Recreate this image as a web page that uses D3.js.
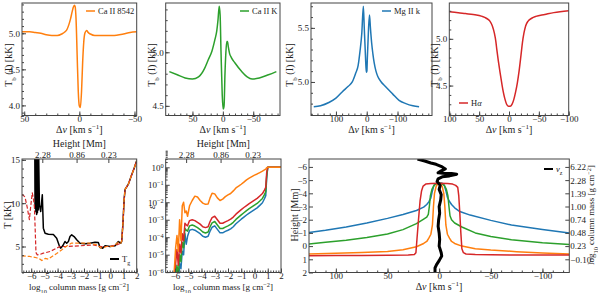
<!DOCTYPE html>
<html>
<head>
<meta charset="utf-8">
<script src="https://cdn.jsdelivr.net/npm/d3@7"></script>
<style>
body { margin: 0; background: #fff; }
svg { font-family: "Liberation Serif", serif; }
</style>
</head>
<body>
<svg id="fig" width="598" height="293"></svg>
<script>
//Line profiles (top row)
var caDv = [52, 45, 40, 35, 30, 25, 20, 16, 13, 11, 9.5, 8, 6.5, 5.5, 4.5, 3.8, 3, 2, 1, 0, -0.9, -2, -3, -4, -5, -6, -6.8, -8, -10, -14, -20, -30, -40, -46, -52];
var caT = [5.02, 5.02, 5.01, 5.0, 4.98, 4.97, 4.97, 4.99, 5.02, 5.06, 5.12, 5.2, 5.3, 5.36, 5.39, 5.37, 5.2, 4.7, 4.2, 3.99, 3.97, 4.2, 4.6, 4.88, 5.0, 5.03, 5.04, 5.01, 4.99, 4.97, 4.97, 4.97, 4.99, 5.01, 5.02];

var ckDv = [88, 75, 62, 50, 40, 30, 24, 18, 13, 10, 8, 6, 4.5, 3, 1, -0.5, -2, -3.5, -5, -6.5, -7.6, -9, -11, -14, -20, -31, -40, -48, -60, -75, -88];
var ckT = [4.82, 4.79, 4.76, 4.75, 4.77, 4.85, 4.93, 5.01, 5.12, 5.2, 5.3, 5.43, 5.35, 5.0, 4.6, 4.47, 4.5, 4.8, 5.0, 5.1, 5.1, 5.05, 4.99, 4.95, 4.9, 4.82, 4.77, 4.75, 4.76, 4.79, 4.82];

var mgDv = [172, 150, 123, 100, 79, 60, 47, 36, 28, 22, 16, 11, 8, 5, 2.5, 1, -0.5, -2, -4, -6, -9, -12, -16, -20, -24, -30, -36, -47, -60, -84, -105, -127, -150, -170];
var mgT = [4.77, 4.78, 4.81, 4.85, 4.91, 4.96, 5.0, 5.08, 5.15, 5.28, 5.45, 5.7, 5.5, 5.3, 5.14, 5.09, 5.1, 5.22, 5.36, 5.5, 5.62, 5.5, 5.36, 5.26, 5.18, 5.1, 5.05, 5.0, 4.96, 4.89, 4.83, 4.8, 4.78, 4.77];

var haDv = [100, 85, 73, 60, 45, 38, 32, 28, 24.5, 22, 20.5, 18, 15, 12, 9.5, 7, 4, 1, -2, -5, -8, -11, -14, -17, -20, -22.5, -25, -28, -32, -38, -45, -60, -75, -100];
var haT = [5.29, 5.28, 5.27, 5.26, 5.24, 5.22, 5.19, 5.14, 5.06, 4.97, 4.89, 4.77, 4.64, 4.52, 4.43, 4.36, 4.3, 4.28, 4.28, 4.3, 4.35, 4.43, 4.53, 4.66, 4.82, 4.96, 5.06, 5.14, 5.19, 5.22, 5.24, 5.26, 5.28, 5.3];

//Temperature (bottom left)
var tgMass = [-5.74, -5.71, -5.68, -5.65, -5.62, -5.59, -5.56, -5.53, -5.5, -5.47, -5.44, -5.38, -5.28, -5.16, -5.08, -4.95, -4.7, -4.32, -4.07, -3.87, -3.77, -3.61, -3.44, -3.31, -3.18, -3.06, -2.93, -2.75, -2.55, -2.3, -1.92, -1.54, -1.16, -0.91, -0.78, -0.58, -0.4, -0.02, 0.36, 0.61, 0.79, 0.86, 0.95, 1.05, 1.12, 1.37, 1.6, 1.8, 2.0];
var tgT = [20, 9.4, 20, 9.0, 20, 8.7, 20, 8.9, 20, 9.2, 16, 9.8, 9.04, 10.96, 7.12, 6.54, 6.42, 6.38, 5.96, 5.08, 4.81, 5.08, 5.58, 5.38, 5.58, 6.15, 6.35, 6.15, 5.77, 5.38, 5.31, 5.38, 5.5, 5.46, 4.88, 4.81, 5.08, 5.0, 5.08, 5.58, 5.38, 5.6, 7.5, 10.5, 11.6, 12.2, 13.2, 14.0, 14.9];

var trMass = [-6.72, -6.6, -6.47, -6.3, -6.14, -6.05, -5.92, -5.84, -5.76, -5.7, -5.64, -5.54, -5.3, -5.08, -4.57, -4.07, -3.82, -3.31, -2.3, -1.29, -0.78, -0.02, 0.48, 0.79, 0.86, 0.95, 1.05, 1.12, 1.37, 1.6, 1.8, 2.0];
var trT = [11.0, 10.9, 10.7, 9.5, 8.1, 9.5, 11.2, 10.6, 9.6, 7.0, 4.3, 4.04, 4.1, 4.23, 4.42, 4.81, 5.0, 5.0, 5.08, 5.19, 5.0, 5.0, 5.19, 5.38, 5.6, 7.5, 10.5, 11.6, 12.2, 13.2, 14.0, 14.9];

var toMass = [-6.72, -6.1, -5.6, -5.35, -5.2, -4.95, -4.7, -4.45, -4.07, -3.7, -3.31, -2.93, -2.3, -1.54, -1.04, -0.65, -0.27, 0.23, 0.61, 0.79, 0.86, 0.95, 1.05, 1.12, 1.37, 1.6, 1.8, 2.0];
var toT = [3.92, 3.85, 3.7, 3.55, 3.38, 3.62, 3.55, 3.82, 4.2, 4.6, 5.05, 5.4, 5.38, 5.38, 5.19, 4.81, 5.0, 5.05, 5.5, 5.38, 5.6, 7.5, 10.5, 11.6, 12.2, 13.2, 14.0, 14.9];

//Epsilon, log10 values (bottom middle)
var epsMass = [-6.1, -5.95, -5.85, -5.75, -5.65, -5.55, -5.45, -5.35, -5.25, -5.15, -5.05, -4.9, -4.7, -4.5, -4.3, -4.1, -3.9, -3.7, -3.5, -3.35, -3.2, -3.0, -2.8, -2.6, -2.4, -2.2, -2.0, -1.8, -1.6, -1.4, -1.2, -1.0, -0.8, -0.6, -0.4, -0.2, 0.0, 0.2, 0.4, 0.6, 0.75, 0.85, 0.92, 1.0, 1.5, 2.0];
var epsCa8542 = [-6.5, -4.6, -3.9, -4.8, -3.0, -4.2, -2.2, -2.0, -2.6, -2.5, -2.8, -2.2, -1.9, -1.65, -1.7, -1.9, -2.05, -2.12, -2.1, -1.75, -1.48, -1.52, -1.75, -1.9, -1.82, -1.68, -1.58, -1.5, -1.35, -1.18, -1.08, -0.97, -0.85, -0.72, -0.62, -0.53, -0.45, -0.38, -0.3, -0.22, -0.15, -0.1, -0.02, 0, 0, 0];
var epsHa = [-6.8, -5.5, -4.7, -5.6, -4.4, -4.9, -3.8, -4.2, -3.2, -3.3, -3.35, -3.05, -3.0, -3.05, -3.15, -3.25, -3.4, -3.45, -3.4, -3.1, -2.88, -2.8, -3.0, -3.2, -3.2, -3.12, -3.05, -2.97, -2.85, -2.68, -2.55, -2.42, -2.3, -2.19, -2.08, -1.98, -1.88, -1.78, -1.64, -1.5, -1.3, -1.15, -0.3, 0, 0, 0];
var epsCaK = [-7.5, -6.5, -5.6, -6.3, -5.0, -5.4, -4.3, -4.6, -3.5, -3.6, -3.65, -3.35, -3.3, -3.36, -3.45, -3.56, -3.7, -3.76, -3.7, -3.4, -3.18, -3.1, -3.3, -3.5, -3.5, -3.42, -3.35, -3.27, -3.15, -2.98, -2.85, -2.72, -2.6, -2.48, -2.37, -2.27, -2.17, -2.07, -1.93, -1.78, -1.56, -1.4, -0.5, 0, 0, 0];
var epsMg = [-8, -7, -6.2, -6.8, -5.5, -5.8, -4.8, -5.0, -3.8, -4.4, -3.95, -3.6, -3.55, -3.6, -3.7, -3.8, -3.95, -4.0, -3.95, -3.65, -3.43, -3.35, -3.55, -3.75, -3.75, -3.67, -3.6, -3.52, -3.4, -3.23, -3.1, -2.97, -2.85, -2.73, -2.62, -2.52, -2.42, -2.32, -2.18, -2.03, -1.8, -1.62, -0.6, 0, 0, 0];

//Formation height vs velocity (bottom right)
var hMgDv = [126, 110, 90, 70, 50, 35, 22, 15, 12, 10, 8, 6.5, 5, 3, 0, -3, -5, -6.5, -8, -10, -12, -15, -20, -30, -50, -70, -100, -126];
var hMg = [-1.03, -1.2, -1.45, -1.75, -2.1, -2.4, -2.7, -2.95, -3.15, -3.35, -3.65, -4.2, -4.6, -4.76, -4.8, -4.76, -4.6, -4.2, -3.7, -3.38, -3.15, -2.9, -2.62, -2.35, -1.95, -1.6, -1.26, -1.0];
var hCkDv = [126, 110, 90, 70, 50, 35, 22, 15, 12, 10.5, 9.5, 8.5, 7, 5, 2, 0, -2, -5, -7, -8.5, -9.5, -10.5, -12, -15, -22, -35, -50, -70, -100, -126];
var hCk = [-0.15, -0.3, -0.45, -0.65, -0.92, -1.25, -1.7, -2.05, -2.2, -2.4, -3.0, -3.8, -4.3, -4.6, -4.75, -4.8, -4.75, -4.6, -4.3, -3.8, -3.0, -2.3, -2.0, -1.75, -1.45, -1.0, -0.72, -0.48, -0.25, -0.13];
var hCaDv = [126, 100, 75, 50, 35, 22, 15, 12, 10, 8, 6.5, 5.5, 4.5, 3, 1.5, 0, -1.5, -3, -4.5, -5.5, -6.5, -8, -10, -12, -15, -22, -35, -50, -75, -100, -126];
var hCa = [0.6, 0.55, 0.48, 0.4, 0.28, 0.05, -0.2, -0.35, -0.6, -0.9, -1.6, -3.0, -4.0, -4.5, -4.7, -4.78, -4.7, -4.5, -4.0, -3.0, -1.6, -0.9, -0.6, -0.35, -0.2, 0.0, 0.2, 0.3, 0.42, 0.52, 0.6];
var hHaDv = [126, 100, 75, 50, 30, 24, 22.5, 21.5, 20, 18.5, 17, 15.5, 13, 8, 0, -8, -13, -16, -18, -19, -20, -21, -22, -23.5, -26, -35, -50, -75, -100, -126];
var hHa = [0.73, 0.72, 0.71, 0.69, 0.67, 0.64, 0.5, -0.5, -2.0, -3.4, -4.2, -4.55, -4.7, -4.75, -4.77, -4.75, -4.7, -4.6, -4.45, -3.8, -2.5, -1.0, 0.2, 0.5, 0.6, 0.64, 0.66, 0.67, 0.68, 0.68];
var vzDv = [21, 14, 8, 3, -3, -6, -2, 1, -6, -12, -17, -10, -3, 1, 2, -1, 0, -2, -1.5, 0, -0.5, 0.5, 1, 0, -0.5, 0, -2, -2.5, 0, 2.5, 4, 4];
var vzH = [-6.6, -6.45, -6.3, -6.2, -6.0, -5.85, -5.7, -5.55, -5.5, -5.5, -5.45, -5.32, -5.25, -5.1, -4.9, -4.6, -4.3, -3.9, -3.5, -3.0, -2.5, -2.0, -1.5, -1.0, -0.5, 0, 0.5, 0.75, 1.1, 1.4, 1.65, 2.0];

//Ticks
var heightTickMass = [-5.16, -2.56, -0.15];
var heightTickLabels = ["2.28", "0.86", "0.23"];
var hRightTicks = [-6, -5, -4, -3, -2, -1, 0, 1];
var hRightLabels = ["6.22", "2.28", "1.39", "1.00", "0.74", "0.48", "0.23", "\u22120.10"];

var F = "Liberation Serif";
var cOrange = "#ff7f0e", cGreen = "#2ca02c", cBlue = "#1f77b4", cRed = "#d62728";
var svg = d3.select("#fig");
var nclip = 0;

function makePanel(x0, y0, x1, y1, xdom, ydom, logy) {
    var id = "clip" + (nclip++);
    svg.append("clipPath").attr("id", id).append("rect")
        .attr("x", x0).attr("y", y0).attr("width", x1 - x0).attr("height", y1 - y0);
    var p = {
        x: d3.scaleLinear().domain(xdom).range([x0, x1]),
        y: (logy ? d3.scaleLog() : d3.scaleLinear()).domain(ydom).range([y1, y0]),
        box: [x0, y0, x1, y1],
        g: svg.append("g")
    };
    p.plot = p.g.append("g").attr("clip-path", "url(#" + id + ")");
    return p;
}

function frame(p) {
    var b = p.box;
    p.g.append("rect").attr("x", b[0]).attr("y", b[1])
        .attr("width", b[2] - b[0]).attr("height", b[3] - b[1])
        .attr("fill", "none").attr("stroke", "#444").attr("stroke-width", 1);
}

function range(a, b, s) {
    return d3.range(Math.round((b - a) / s) + 1).map(function (i) { return +(a + i * s).toFixed(4) });
}

function axis(p, side, scale, major, minor, fmt, pad) {
    var b = p.box;
    var mk = { bottom: d3.axisBottom, top: d3.axisTop, left: d3.axisLeft, right: d3.axisRight }[side];
    var tr = { bottom: [0, b[3]], top: [0, b[1]], left: [b[0], 0], right: [b[2], 0] }[side];
    var g = p.g.append("g").attr("transform", "translate(" + tr + ")");
    if (minor) g.append("g").call(mk(scale).tickValues(minor).tickSize(-2).tickFormat(""));
    g.append("g").call(mk(scale).tickValues(major).tickSize(-4)
        .tickPadding(pad == null ? 2 : pad).tickFormat(fmt));
    g.selectAll(".domain").remove();
    g.selectAll("line").attr("stroke", "#444");
    g.selectAll("g").attr("font-family", F).attr("font-size", 9);
    g.selectAll("text").attr("fill", "#222");
    return g;
}

function rich(t, parts) {
    parts.forEach(function (d) {
        var s = t.append("tspan").text(d[0]);
        if (d[1] == "it") s.attr("font-style", "italic");
        if (d[1] == "sup") s.attr("font-size", "70%").attr("baseline-shift", "super");
        if (d[1] == "sub") s.attr("font-size", "70%").attr("baseline-shift", "sub");
    });
    return t;
}

function label(x, y, rot, parts, size) {
    var t = svg.append("text").attr("text-anchor", "middle").attr("font-family", F)
        .attr("font-size", size || 10).attr("fill", "#222")
        .attr("transform", "translate(" + x + "," + y + ")" + (rot ? " rotate(" + rot + ")" : ""))
        .attr("dy", "0.35em");
    return rich(t, parts);
}

function curve(p, xs, ys, color, width, dash, cv) {
    var l = d3.line().x(function (d, i) { return p.x(xs[i]) }).y(function (d, i) { return p.y(ys[i]) });
    if (cv) l.curve(cv);
    p.plot.append("path").datum(xs).attr("d", l).attr("fill", "none")
        .attr("stroke", color).attr("stroke-width", width)
        .attr("stroke-dasharray", dash || null).attr("stroke-linejoin", "round");
}

function legend(p, x, y, color, width, parts) {
    p.g.append("line").attr("x1", x).attr("x2", x + 9).attr("y1", y).attr("y2", y)
        .attr("stroke", color).attr("stroke-width", width);
    var t = p.g.append("text").attr("x", x + 12).attr("y", y).attr("dy", "0.35em")
        .attr("font-family", F).attr("font-size", 8.5).attr("fill", "#222");
    rich(t, parts);
}

var f1 = d3.format(".1f"), fd = d3.format("d");
var dvLabel = [["\u0394"], ["v", "it"], [" [km s"], ["\u22121", "sup"], ["]"]];
var tbLabel = [["T"], ["b", "sub"], [" (I) [kK]"]];
var massLabel = [["log"], ["10", "sub"], [" column mass [g cm"], ["\u22122", "sup"], ["]"]];

//Top row
var rowTop = [3, 115.5];
var profiles = [
    { box: [22, 136.7], xd: [52, -52], yd: [3.86, 5.42], dv: caDv, t: caT, c: cOrange, name: [["Ca II 8542"]],
      xt: [50, 0, -50], xm: range(-50, 50, 10), yt: [4.0, 4.5, 5.0], ym: range(3.9, 5.4, 0.1), lab: 8, leg: [86, 11] },
    { box: [165.7, 280], xd: [94, -94], yd: [4.41, 5.46], dv: ckDv, t: ckT, c: cGreen, name: [["Ca II K"]],
      xt: [50, 0, -50], xm: range(-90, 90, 10), yt: [4.5, 5.0], ym: range(4.5, 5.4, 0.1), lab: 151, leg: [240, 11] },
    { box: [311, 432], xd: [181, -212], yd: [4.69, 5.73], dv: mgDv, t: mgT, c: cBlue, name: [["Mg II k"]],
      xt: [100, 0, -100], xm: range(-200, 180, 20), yt: [5.0, 5.5], ym: range(4.7, 5.7, 0.1), lab: 289, leg: [382, 11] },
    { box: [449.3, 568.7], xd: [100, -100], yd: [4.18, 5.383], dv: haDv, t: haT, c: cRed, name: [["H"], ["\u03b1", "it"]],
      xt: [100, 50, 0, -50, -100], xm: range(-100, 100, 10), yt: [4.5, 5.0], ym: range(4.2, 5.3, 0.1), lab: 434, leg: [459, 103] }
];
profiles.forEach(function (d) {
    var p = makePanel(d.box[0], rowTop[0], d.box[1], rowTop[1], d.xd, d.yd);
    curve(p, d.dv, d.t, d.c, 1.5, null, d3.curveMonotoneX);
    frame(p);
    axis(p, "bottom", p.x, d.xt, d.xm, fd, 0);
    axis(p, "left", p.y, d.yt, d.ym, f1, 2);
    legend(p, d.leg[0], d.leg[1], d.c, 1.5, d.name);
    label((d.box[0] + d.box[1]) / 2, 129, 0, dvLabel);
    label(d.lab, 65, -90, tbLabel);
});

//Bottom row
var rowBot = [159, 272.5];

function heightAxis(p) {
    axis(p, "top", p.x, heightTickMass, null, function (d, i) { return heightTickLabels[i] }, 1);
    label((p.box[0] + p.box[2]) / 2, 143.5, 0, [["Height [Mm]"]]);
}

var pT = makePanel(22, rowBot[0], 136.7, rowBot[1], [-6.7, 2.0], [2.0, 15.1]);
curve(pT, tgMass, tgT, "#000", 1.5);
curve(pT, trMass, trT, cRed, 1.2, "4,2");
curve(pT, toMass, toT, cOrange, 1.2, "4,2");
frame(pT);
axis(pT, "bottom", pT.x, range(-6, 2, 1), range(-6.6, 2, 0.2), fd, 0);
axis(pT, "left", pT.y, [5, 10, 15], range(2, 15, 1), fd, 2);
heightAxis(pT);
legend(pT, 110, 259, "#000", 2, [["T"], ["g", "sub"]]);
label(79, 286.5, 0, massLabel, 9);
label(7, 215, -90, [["T [kK]"]]);

var pE = makePanel(165.7, rowBot[0], 281, rowBot[1], [-6.7, 2.0], [Math.pow(10, -6.02), Math.pow(10, 0.476)], true);
var powMinor = [];
d3.range(-6, 1).forEach(function (k) { d3.range(2, 10).forEach(function (m) { powMinor.push(m * Math.pow(10, k)) }) });
[[epsMg, cBlue], [epsCaK, cGreen], [epsHa, cRed], [epsCa8542, cOrange]].forEach(function (s) {
    curve(pE, epsMass, s[0].map(function (v) { return Math.pow(10, v) }), s[1], 1.5);
});
frame(pE);
axis(pE, "bottom", pE.x, range(-6, 2, 1), range(-6.6, 2, 0.2), fd, 0);
var powMajor = d3.range(-6, 1);
var ea = axis(pE, "left", pE.y, powMajor.map(function (k) { return Math.pow(10, k) }), powMinor, function () { return "" }, 2);
ea.selectAll("g.tick text").each(function (d) {
    var k = Math.round(Math.log10(d));
    if (Math.abs(d / Math.pow(10, k) - 1) > 1e-6) return;
    rich(d3.select(this), [["10"], [k < 0 ? "\u2212" + (-k) : "" + k, "sup"]]);
});
heightAxis(pE);
label(223, 286.5, 0, massLabel, 9);
label(151, 207, -90, [["\u03b5", "it"]]);

var pH = makePanel(309, rowBot[0], 569.3, rowBot[1], [126, -126], [2, -6.6]);
pH.y.range([rowBot[1], rowBot[0]]);
curve(pH, hMgDv, hMg, cBlue, 1.5);
curve(pH, hCkDv, hCk, cGreen, 1.5);
curve(pH, hCaDv, hCa, cOrange, 1.5);
curve(pH, hHaDv, hHa, cRed, 1.5);
curve(pH, vzDv, vzH, "#000", 3);
frame(pH);
axis(pH, "bottom", pH.x, [100, 50, 0, -50, -100], range(-120, 120, 10), fd, 0);
axis(pH, "left", pH.y, range(-6, 2, 1), null, fd, 2);
axis(pH, "right", pH.y, hRightTicks, null, function (d, i) { return hRightLabels[i] }, 1);
legend(pH, 544, 169, "#000", 2, [["v", "it"], ["z", "sub"]]);
label(439, 286.5, 0, dvLabel);
label(294, 215, -90, [["Height [Mm]"]]);
label(591, 215, -90, massLabel, 9);
</script>
</body>
</html>
